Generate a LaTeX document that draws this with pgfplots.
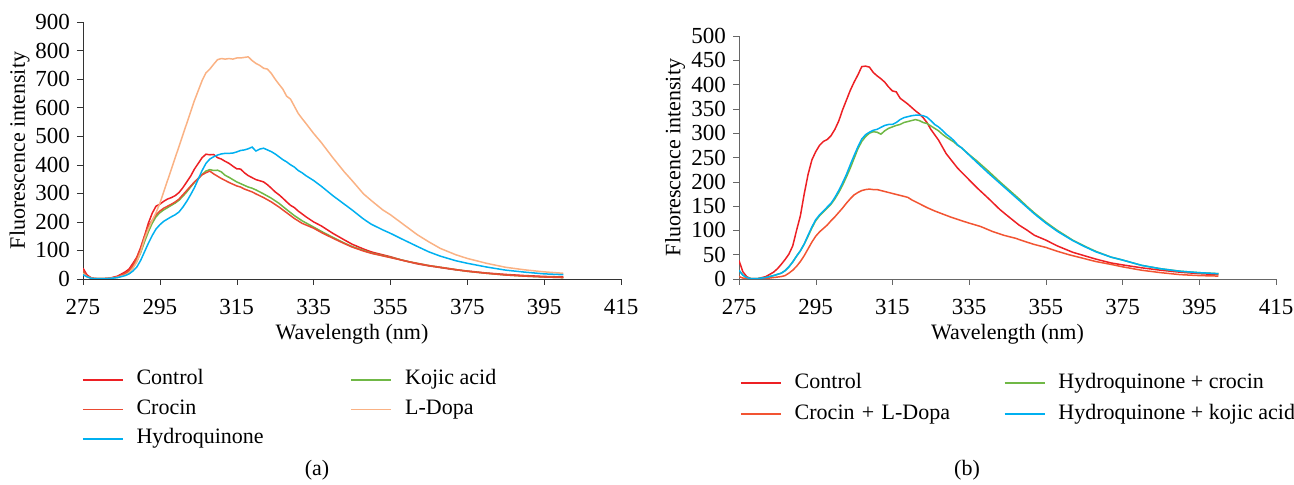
\documentclass[border=0pt]{standalone}
\usepackage{fontspec}
\setmainfont{Liberation Serif}
\usepackage{pgfplots}
\pgfplotsset{compat=1.18}

\definecolor{ctrl}{RGB}{237,32,36}
\definecolor{crocin}{RGB}{234,74,50}
\definecolor{crocld}{RGB}{242,84,50}
\definecolor{hydro}{RGB}{0,176,240}
\definecolor{kojic}{RGB}{112,184,70}
\definecolor{ldopa}{RGB}{250,178,132}

\pgfplotsset{
  specaxis/.style={
    scale only axis,
    anchor=south west,
    xmin=275, xmax=415,
    xtick={275,295,...,415},
    ymin=0,
    enlargelimits=false,
    axis x line*=bottom,
    axis y line*=left,
    axis line style={-},
    tick align=outside,
    major tick length=3pt,
    /pgf/number format/assume math mode=true,
    tick label style={font=\fontsize{11.5}{13}\selectfont},
    xticklabel style={yshift=-3.5pt},
    label style={font=\fontsize{11}{13}\selectfont},
    xlabel={Wavelength (nm)},
    ylabel={Fluorescence intensity},
    xlabel style={at={(axis description cs:0.5,0)}, anchor=center, yshift=-27.5pt},
    every axis plot/.append style={line width=0.75pt, no markers},
    legend columns=2,
    legend cell align=left,
    legend image code/.code={\draw[##1,line width=0.9pt] (0pt,0pt) -- (20pt,0pt); \path (26.5pt,0pt);},
    legend style={draw=none, fill=none, inner sep=0pt, outer sep=0pt,
      column sep=0pt, anchor=north west,
      nodes={inner sep=0pt, text height=8pt, text depth=3pt, font=\fontsize{11}{13}\selectfont}},
  }
}

\begin{document}
\begin{tikzpicture}
\useasboundingbox (0,0) rectangle (647pt,-242.5pt);

% (a)
\begin{axis}[specaxis,
  at={(41.5pt,-139.5pt)}, width=269pt, height=128.5pt,
  ymax=900, ytick={0,100,...,900},
  axis line style={black!80}, major tick style={black!80},
  ylabel style={at={(axis description cs:-0.118,0.5)}, anchor=center},
  legend style={at={(-0.002,-0.35)}, row sep=3.75pt,
    /tikz/column 2/.style={nodes={text width=107pt, align=left}}},
]
\addplot[ctrl] coordinates {(275,38)(276,15)(277,5)(278,2)(280,1)(282,3)(284,10)(286,25)(287,35)(288,55)(289,76)(290,110)(291,150)(292,195)(293,230)(294,255)(295,262)(296,272)(297,280)(298,285)(299,292)(300,303)(301,320)(302,340)(303,360)(304,385)(305,405)(306,425)(307,437)(308,435)(309,436)(310,425)(311,420)(312,412)(313,405)(314,395)(315,386)(316,385)(317,372)(318,362)(319,355)(320,348)(321,344)(322,340)(323,330)(324,318)(325,305)(326,295)(327,283)(328,270)(329,258)(330,250)(331,238)(332,228)(333,218)(335,200)(337,186)(340,160)(343,137)(345,122)(348,105)(350,95)(352,88)(355,78)(358,66)(362,53)(365,46)(368,40)(372,32)(375,28)(380,21)(385,16)(390,12)(395,9)(400,7)};
\addlegendentry{Control}
\addplot[kojic] coordinates {(275,22)(276,10)(277,4)(278,1)(280,1)(282,2)(284,6)(286,16)(287,25)(288,40)(289,62)(290,92)(291,130)(292,165)(293,195)(294,218)(295,232)(296,242)(297,250)(298,258)(299,266)(300,276)(301,290)(302,305)(303,322)(304,338)(305,352)(306,366)(307,378)(308,383)(309,380)(310,381)(311,375)(312,363)(313,356)(314,348)(315,340)(316,334)(317,328)(318,322)(319,318)(320,312)(322,298)(324,283)(326,265)(328,243)(330,222)(332,204)(335,182)(337,167)(340,146)(343,126)(345,114)(348,100)(350,91)(355,76)(360,60)(365,47)(370,37)(375,27)(380,20)(385,14)(390,10)(395,7)(400,5)};
\addlegendentry{Kojic acid}
\addplot[crocin] coordinates {(275,30)(276,12)(277,4)(278,1)(280,1)(282,3)(284,8)(286,20)(287,30)(288,48)(289,75)(290,105)(291,150)(292,185)(293,205)(294,225)(295,238)(296,248)(297,255)(298,262)(299,270)(300,280)(301,295)(302,310)(303,325)(304,340)(305,352)(306,365)(307,372)(308,378)(309,368)(310,360)(311,352)(312,345)(313,338)(314,332)(315,326)(316,322)(317,315)(318,310)(319,305)(320,298)(322,285)(324,270)(326,252)(328,232)(330,212)(332,195)(335,178)(337,163)(340,143)(343,124)(345,112)(348,98)(350,90)(355,75)(360,60)(365,47)(370,37)(375,27)(380,20)(385,14)(390,10)(395,7)(400,5)};
\addlegendentry{Crocin}
\addplot[ldopa] coordinates {(275,20)(276,8)(277,3)(278,1)(280,1)(282,2)(284,6)(286,14)(287,22)(288,38)(289,60)(290,95)(291,140)(292,175)(293,205)(294,232)(295,265)(296,305)(297,345)(298,385)(299,425)(300,465)(301,505)(302,545)(303,585)(304,625)(305,660)(306,695)(307,722)(308,735)(309,752)(310,768)(311,772)(312,770)(313,772)(314,770)(315,774)(316,774)(317,776)(318,778)(319,765)(320,755)(321,748)(322,738)(323,735)(324,720)(325,700)(326,682)(327,665)(328,640)(329,630)(330,605)(331,580)(332,562)(333,545)(335,510)(337,478)(340,425)(343,375)(345,345)(348,298)(350,275)(353,242)(355,225)(358,195)(362,155)(365,130)(368,107)(372,85)(375,72)(380,55)(385,41)(390,32)(395,25)(400,20)};
\addlegendentry{L-Dopa}
\addplot[hydro] coordinates {(275,15)(276,8)(277,3)(278,1)(280,1)(282,2)(284,5)(286,12)(287,18)(288,28)(289,42)(290,65)(291,95)(292,125)(293,152)(294,175)(295,190)(296,202)(297,210)(298,218)(299,225)(300,235)(301,252)(302,272)(303,295)(304,320)(305,350)(306,380)(307,405)(308,420)(309,428)(310,434)(311,438)(312,440)(313,440)(314,441)(315,445)(316,450)(317,452)(318,456)(319,462)(320,448)(321,455)(322,458)(323,452)(324,446)(325,438)(326,428)(327,418)(328,410)(329,400)(330,392)(331,380)(332,372)(333,362)(335,345)(337,325)(340,292)(343,262)(345,242)(348,210)(350,192)(353,172)(355,160)(358,140)(362,114)(365,95)(368,80)(372,64)(375,55)(380,42)(385,31)(390,24)(395,18)(400,15)};
\addlegendentry{Hydroquinone}
\end{axis}

% (b)
\begin{axis}[specaxis,
  at={(369.5pt,-139.5pt)}, width=268.5pt, height=121.5pt,
  ymax=500, ytick={0,50,...,500},
  axis line style={black!60}, major tick style={black!60},
  ylabel style={at={(axis description cs:-0.119,0.5)}, anchor=center},
  legend style={at={(0.002,-0.384)}, row sep=4.5pt,
    /tikz/column 2/.style={nodes={text width=104.5pt, align=left}}},
]
\addplot[ctrl] coordinates {(275,38)(276,15)(277,5)(278,1)(280,1)(282,5)(284,14)(285,21)(286,30)(287,40)(288,51)(289,68)(290,100)(291,130)(292,175)(293,215)(294,245)(295,262)(296,275)(297,283)(298,287)(299,295)(300,308)(301,325)(302,348)(303,368)(304,388)(305,405)(306,420)(307,437)(308,438)(309,436)(310,425)(311,418)(312,412)(313,405)(314,395)(315,387)(316,385)(317,372)(318,366)(319,360)(320,353)(321,346)(322,340)(323,332)(324,322)(325,308)(326,297)(327,286)(328,272)(329,258)(330,248)(331,238)(332,228)(333,220)(335,204)(337,188)(340,166)(343,143)(345,130)(348,111)(350,101)(352,90)(355,80)(358,68)(362,55)(365,48)(368,41)(372,33)(375,29)(380,23)(385,18)(390,14)(395,11)(400,9)};
\addlegendentry{Control}
\addplot[kojic] coordinates {(275,18)(276,8)(277,3)(278,1)(280,1)(282,3)(284,7)(286,12)(287,17)(288,25)(289,35)(290,47)(291,58)(292,72)(293,88)(294,105)(295,120)(296,130)(297,138)(298,146)(299,154)(300,165)(301,178)(302,193)(303,210)(304,228)(305,248)(306,268)(307,283)(308,293)(309,300)(310,303)(311,302)(312,298)(313,305)(314,310)(315,313)(316,316)(317,318)(318,322)(319,324)(320,326)(321,328)(322,326)(323,322)(324,320)(325,315)(326,310)(327,305)(328,298)(329,292)(330,287)(331,282)(332,275)(333,270)(335,256)(337,243)(340,222)(343,200)(345,186)(348,165)(350,150)(352,136)(355,117)(358,100)(362,80)(365,68)(368,57)(372,45)(375,39)(380,28)(385,21)(390,16)(395,13)(400,11)};
\addlegendentry{Hydroquinone + crocin}
\addplot[crocld] coordinates {(275,5)(276,2)(278,0.5)(280,0.5)(282,1)(284,3)(286,5)(287,7)(288,12)(289,18)(290,26)(291,36)(292,48)(293,62)(294,76)(295,88)(296,97)(297,104)(298,111)(299,120)(300,128)(301,137)(302,146)(303,156)(304,165)(305,173)(306,178)(307,182)(308,184)(309,185)(310,184)(311,184)(312,182)(313,180)(314,178)(315,176)(316,174)(317,172)(318,170)(319,168)(320,163)(322,155)(324,147)(326,140)(328,134)(330,128)(333,120)(335,115)(338,108)(341,98)(344,90)(347,84)(350,76)(352,71)(355,65)(358,57)(361,50)(365,42)(368,36)(372,30)(375,25)(380,18)(385,13)(390,9)(395,7)(400,6)};
\addlegendentry{Crocin + L-Dopa}
\addplot[hydro] coordinates {(275,18)(276,8)(277,3)(278,1)(280,1)(282,3)(284,7)(286,12)(287,17)(288,25)(289,35)(290,47)(291,58)(292,72)(293,90)(294,107)(295,122)(296,132)(297,140)(298,148)(299,156)(300,168)(301,182)(302,198)(303,215)(304,235)(305,254)(306,272)(307,288)(308,297)(309,302)(310,306)(311,308)(312,312)(313,316)(314,318)(315,318)(316,322)(317,328)(318,332)(319,334)(320,336)(321,337)(322,337)(323,336)(324,333)(325,326)(326,318)(327,313)(328,306)(329,298)(330,292)(331,285)(332,276)(333,270)(335,255)(337,240)(340,218)(343,197)(345,183)(348,162)(350,148)(352,134)(355,115)(358,98)(362,79)(365,67)(368,56)(372,45)(375,39)(380,28)(385,21)(390,16)(395,13)(400,11)};
\addlegendentry{Hydroquinone + kojic acid}
\end{axis}

\node[font=\fontsize{11}{13}\selectfont] at (158.5pt,-235pt) {(a)};
\node[font=\fontsize{11}{13}\selectfont] at (483.5pt,-235pt) {(b)};
\end{tikzpicture}
\end{document}
